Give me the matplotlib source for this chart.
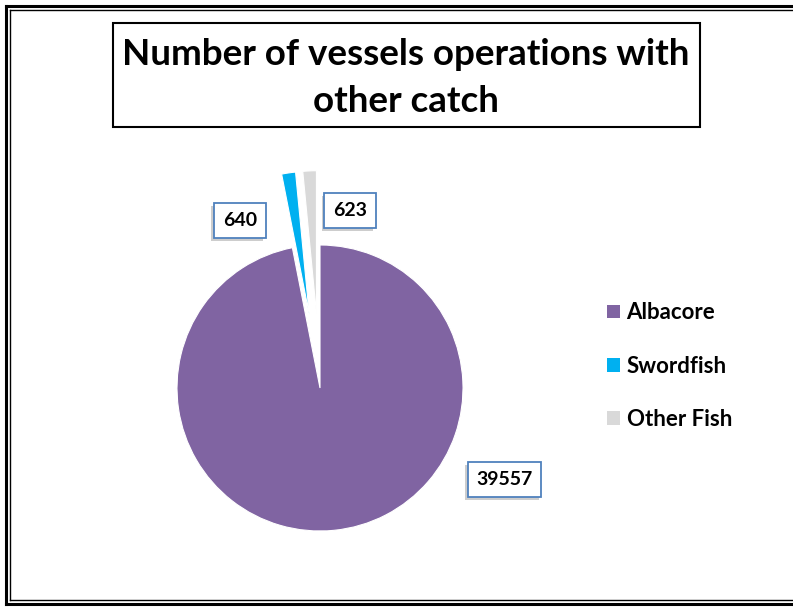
import matplotlib.pyplot as plt
import matplotlib.patheffects as pe
from matplotlib.lines import Line2D
from matplotlib.patches import Rectangle

# Data
species = ['Albacore', 'Swordfish', 'Other Fish']
operations = [39557, 640, 623]
colors = ['#8064A2', '#00B0F0', '#D9D9D9']

# where each value box sits (pie units, centre = 0,0)
label_pos = [(1.29, -0.64), (-0.56, 1.17), (0.21, 1.24)]

W, H = 793, 609
fig = plt.figure(figsize=(W / 100, H / 100), dpi=100)
plt.rcParams['font.family'] = ['Lato', 'DejaVu Sans']


def px_seg(x0, y0, x1, y1, lw):
    # single straight segment, pixel coords from the top-left corner
    fig.add_artist(Line2D([x0 / W, x1 / W], [1 - y0 / H, 1 - y1 / H],
                          transform=fig.transFigure, color='black', lw=lw,
                          solid_capstyle='projecting'))


# double frame round the chart area: top, left and bottom sides only
for off, lw in [(5.5, 2.2), (9.5, 1.0)]:
    px_seg(off, off, W, off, lw)
    px_seg(off, off, off, H - off, lw)
    px_seg(off, H - off, W, H - off, lw)

# title in its own box
fig.add_artist(Rectangle((113 / W, (H - 127) / H), 587 / W, 104 / H, transform=fig.transFigure,
                         fill=True, fc='white', lw=1.5, ec='black'))
fig.text(406 / W, (H - 78) / H, 'Number of vessels operations with\nother catch',
         ha='center', va='center', fontsize=26.5, fontweight='bold', linespacing=1.5)

# pie axes: centre at (320, 388) px, radius 143 px
ax = fig.add_axes([120 / W, (H - 560) / H, 400 / W, 400 / H])
wedges, _ = ax.pie(operations, colors=colors, startangle=90, counterclock=False,
                   explode=[0, 0.52, 0.52], radius=1,
                   wedgeprops=dict(edgecolor='white', linewidth=0.8))
ax.set_xlim(-200 / 143, 200 / 143)
ax.set_ylim(-172 / 143, 228 / 143)
ax.axis('off')

for val, (x, y) in zip(operations, label_pos):
    t = ax.text(x, y, str(val), ha='center', va='center', fontsize=14, fontweight='bold',
                bbox=dict(boxstyle='square,pad=0.45', fc='white', ec='#4F81BD', lw=1.3))
    t.get_bbox_patch().set_path_effects([
        pe.withSimplePatchShadow(offset=(-2, -2), shadow_rgbFace='#909090', alpha=0.45)])

leg = fig.legend(wedges, species, loc='center left',
                 bbox_to_anchor=(607 / W, (H - 366) / H),
                 frameon=False, borderpad=0, borderaxespad=0,
                 handlelength=0.58, handleheight=0.58,
                 handletextpad=0.3, labelspacing=1.45,
                 prop=dict(family=['Lato', 'DejaVu Sans'], weight='bold', size=16))
for h in leg.legend_handles:
    h.set_edgecolor('none')

fig.savefig('out.png', dpi=100)
